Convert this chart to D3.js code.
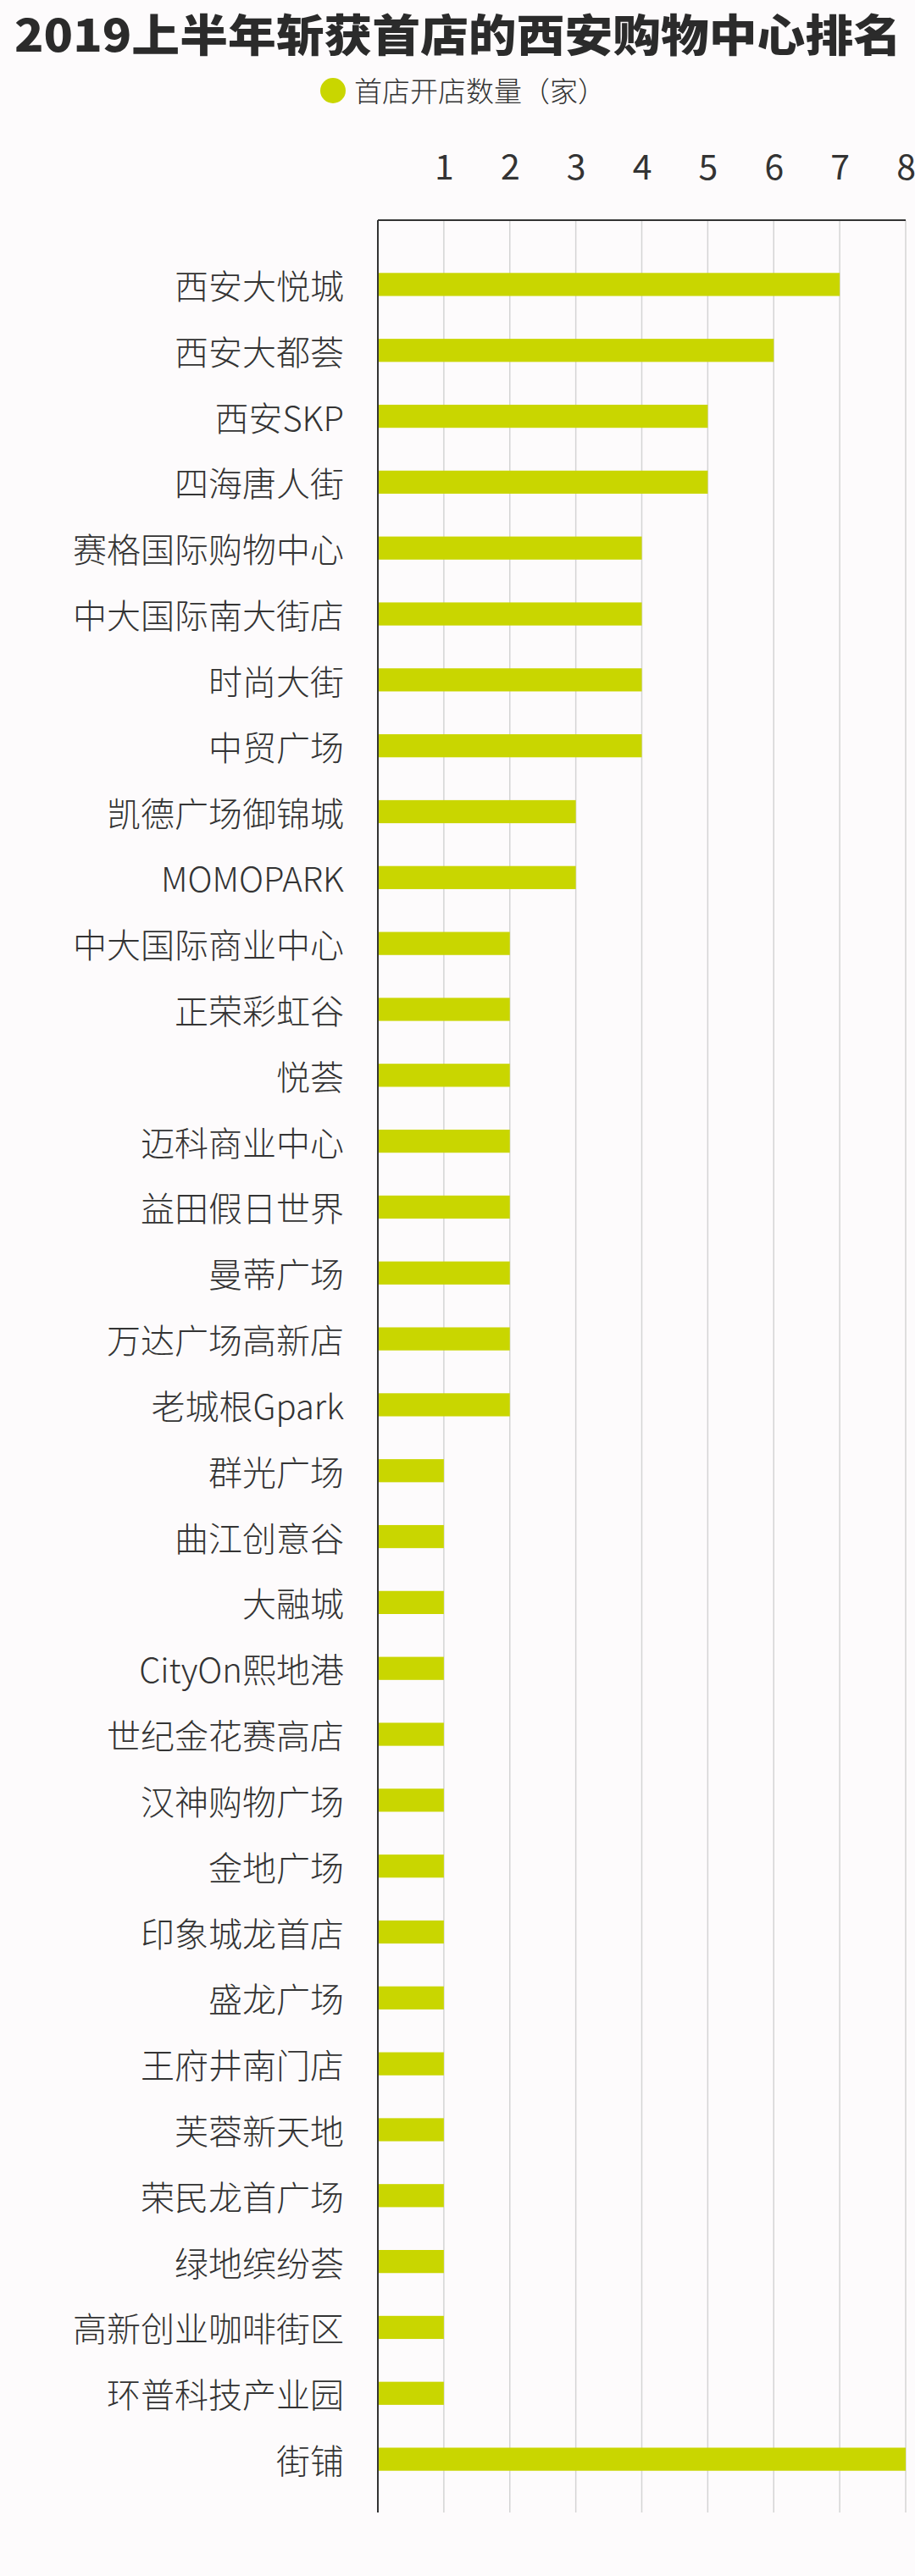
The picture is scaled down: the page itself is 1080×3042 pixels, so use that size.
<!DOCTYPE html>
<html>
<head>
<meta charset="utf-8">
<script src="https://cdn.jsdelivr.net/npm/d3@7"></script>
<style>
  body { margin: 0; background: #fdfbfc; }
  svg { display: block; }
  text { font-family: "Noto Sans CJK SC", "Noto Sans", sans-serif; }
</style>
</head>
<body>
<svg width="1080" height="3042"></svg>
<script>
const categories = ["西安大悦城","西安大都荟","西安SKP","四海唐人街","赛格国际购物中心","中大国际南大街店","时尚大街","中贸广场","凯德广场御锦城","MOMOPARK","中大国际商业中心","正荣彩虹谷","悦荟","迈科商业中心","益田假日世界","曼蒂广场","万达广场高新店","老城根Gpark","群光广场","曲江创意谷","大融城","CityOn熙地港","世纪金花赛高店","汉神购物广场","金地广场","印象城龙首店","盛龙广场","王府井南门店","芙蓉新天地","荣民龙首广场","绿地缤纷荟","高新创业咖啡街区","环普科技产业园","街铺"];
const values = [7,6,5,5,4,4,4,4,3,3,2,2,2,2,2,2,2,2,1,1,1,1,1,1,1,1,1,1,1,1,1,1,1,8];
const tickValues = [1,2,3,4,5,6,7,8];
const title = "2019上半年斩获首店的西安购物中心排名";
const legendLabel = "首店开店数量（家）";

const svg = d3.select("svg");
const width = +svg.attr("width");
const height = +svg.attr("height");
const barColor = "#c9d600";

const gridTop = 260, gridBottom = 2967;
const x = d3.scaleLinear().domain([0, 8]).range([446, 1069]);
const y = d3.scaleBand().domain(categories).range([297, 2943]).paddingInner(0.65).paddingOuter(0.325);

// title
svg.append("text")
  .attr("x", 17).attr("y", 61)
  .attr("textLength", 1047).attr("lengthAdjust", "spacingAndGlyphs")
  .attr("font-size", 52).attr("font-weight", 900)
  .attr("fill", "#2b2b2b")
  .text(title);

// legend
svg.append("circle").attr("cx", 393).attr("cy", 107).attr("r", 15).attr("fill", barColor);
svg.append("text")
  .attr("x", 418).attr("y", 106)
  .attr("dominant-baseline", "central")
  .attr("font-size", 33).attr("font-weight", 300)
  .attr("fill", "#333")
  .text(legendLabel);

// gridlines
svg.append("g").selectAll("line").data(tickValues).join("line")
  .attr("x1", d => x(d)).attr("x2", d => x(d))
  .attr("y1", gridTop).attr("y2", gridBottom)
  .attr("stroke", "#d4d4d4").attr("stroke-width", 1.5);

// top axis labels
const xaxis = d3.axisTop(x).tickValues(tickValues).tickSize(0).tickPadding(0).tickFormat(d3.format("d"));
const ax = svg.append("g").attr("transform", "translate(0,212)").call(xaxis);
ax.select(".domain").remove();
ax.selectAll("text")
  .attr("font-size", 41)
  .attr("font-family", "\"Liberation Sans\", Arial, sans-serif")
  .attr("fill", "#333");

// axis lines
svg.append("line")
  .attr("x1", x(0)).attr("x2", x(8))
  .attr("y1", gridTop).attr("y2", gridTop)
  .attr("stroke", "#333").attr("stroke-width", 2);
svg.append("line")
  .attr("x1", x(0)).attr("x2", x(0))
  .attr("y1", gridTop).attr("y2", gridBottom)
  .attr("stroke", "#333").attr("stroke-width", 2);

// bars
svg.append("g").selectAll("rect").data(categories).join("rect")
  .attr("x", x(0) + 1)
  .attr("y", d => y(d))
  .attr("width", (d, i) => x(values[i]) - x(0) - 1)
  .attr("height", y.bandwidth())
  .attr("fill", barColor);

// category labels
svg.append("g").selectAll("text").data(categories).join("text")
  .attr("x", 406)
  .attr("y", d => y(d) + y.bandwidth() / 2)
  .attr("text-anchor", "end")
  .attr("dominant-baseline", "central")
  .attr("font-size", 40).attr("font-weight", 300)
  .attr("fill", "#333")
  .text(d => d);
</script>
</body>
</html>
